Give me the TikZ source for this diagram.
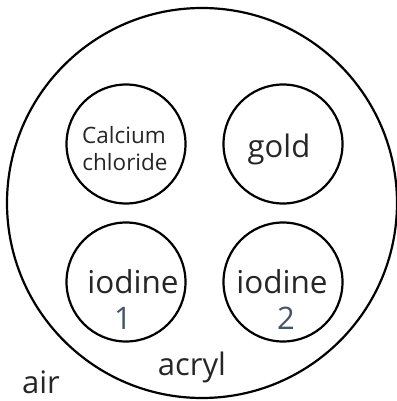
\documentclass[tikz,border=0pt]{standalone}
\usepackage{fontspec}
\setmainfont{Open Sans}
\definecolor{txt}{HTML}{262626}
\definecolor{num}{HTML}{44546A}
\begin{document}
\begin{tikzpicture}[x=1pt,y=-1pt,
  ring/.style={draw=black,line width=2.2pt,circle,minimum size=#1,inner sep=0pt},
  lbl/.style={text=txt,inner sep=0pt,anchor=base},
  numlbl/.style={text=num,inner sep=0pt,anchor=base}]
\useasboundingbox (0,0) rectangle (396,401);
\node[ring=390pt] (outer) at (202,203) {};
\node[ring=119pt] (cacl) at (126,144) {};
\node[ring=119pt] (gold) at (283,144) {};
\node[ring=119pt] (io1) at (126,282) {};
\node[ring=119pt] (io2) at (283,282) {};
\node[lbl,font=\fontsize{22.5}{24}\selectfont] (t1) at (124,143) {Calcium};
\node[lbl,font=\fontsize{22.5}{24}\selectfont] (t2) at (125,170) {chloride};
\node[lbl,font=\fontsize{31}{32}\selectfont] (t3) at (279,157) {gold};
\node[lbl,font=\fontsize{31.5}{32}\selectfont] (t4) at (133,293) {iodine};
\node[lbl,font=\fontsize{31.5}{32}\selectfont] (t5) at (282,293) {iodine};
\node[numlbl,font=\fontsize{31}{32}\selectfont] (n1) at (123,329) {1};
\node[numlbl,font=\fontsize{31}{32}\selectfont] (n2) at (286,329) {2};
\node[lbl,font=\fontsize{31}{32}\selectfont] (t6) at (192,375) {acryl};
\node[lbl,font=\fontsize{31}{32}\selectfont] (t7) at (41,393) {air};
\end{tikzpicture}
\end{document}
